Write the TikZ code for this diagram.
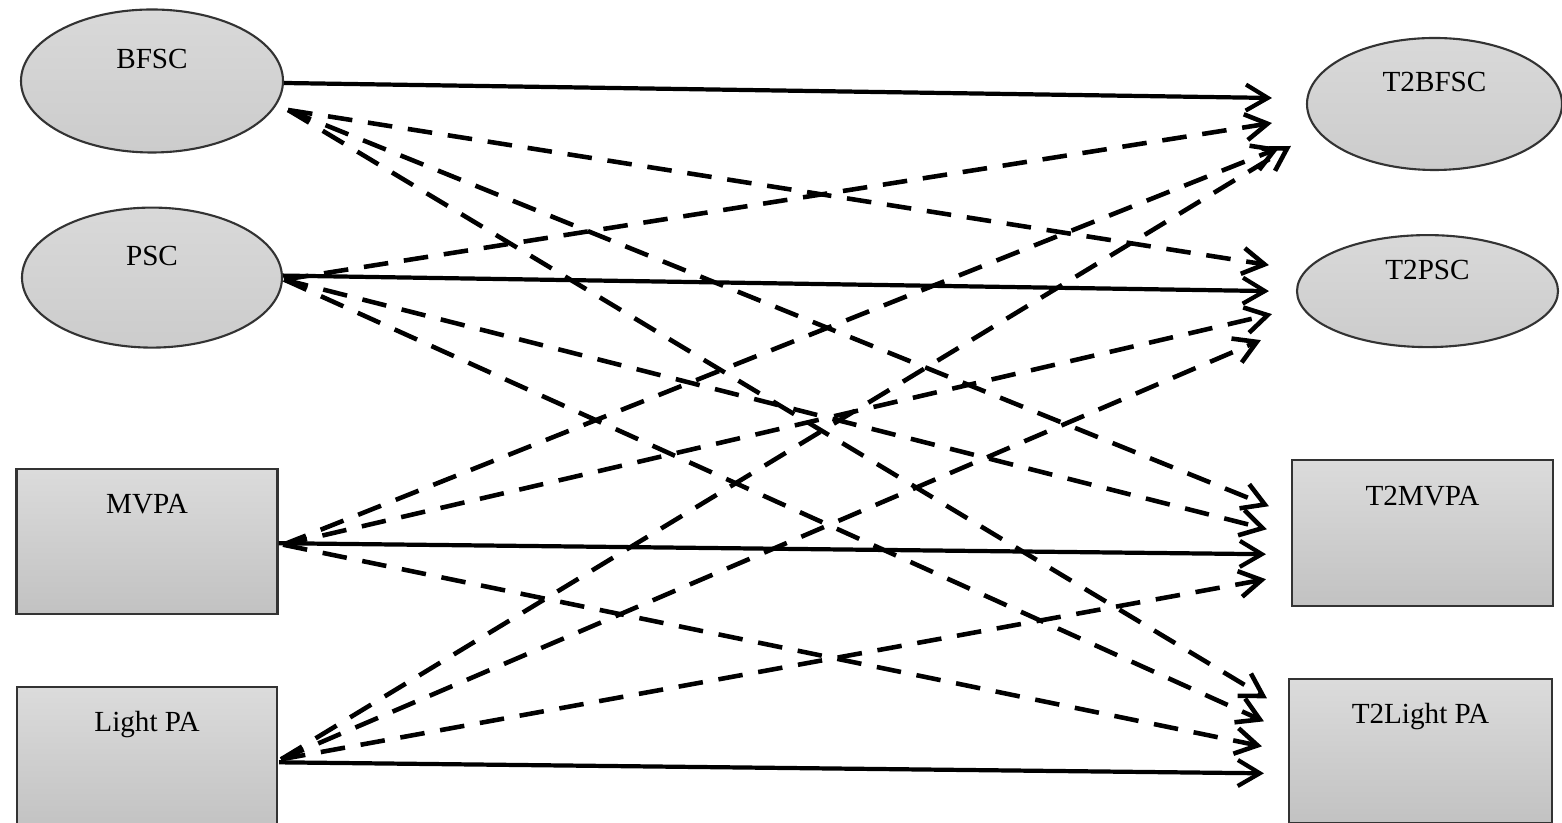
\documentclass[tikz,border=0pt]{standalone}
\usepackage{fontspec}
\setmainfont{Liberation Serif}
\usepackage{tikz}
\usetikzlibrary{shapes.geometric, arrows.meta, positioning, calc}
\tikzstyle{oval} = [ellipse, draw=black!80, line width=0.6pt, top color=gray!30, bottom color=gray!40, inner sep=0pt, text height=0.2cm, text depth=0.44cm, font=\fontsize{8.3}{10}\selectfont]
\tikzstyle{box} = [rectangle, draw=black!80, line width=0.6pt, top color=gray!28, bottom color=gray!48, text height=0.2cm, text depth=0.76cm, font=\fontsize{8.3}{10}\selectfont]
\tikzstyle{link} = [line width=1.2pt, -{Straight Barb[length=2.2mm, width=2.6mm]}]
\tikzstyle{crosslink} = [link, line width=1.3pt, dash pattern=on 7pt off 4.5pt]

\begin{document}
\begin{tikzpicture}
    \useasboundingbox (0,0) rectangle (15.62,8.23);
    % Baseline measures
    
\node[oval, minimum width=2.62cm, minimum height=1.43cm] (bfsc) at (1.52,7.42) {BFSC};
    
\node[oval, minimum width=2.60cm, minimum height=1.40cm, below=0.53cm of bfsc] (psc) {PSC};
    
\node[box, minimum width=2.61cm, minimum height=1.45cm, below=1.19cm of psc, xshift=-0.05cm] (mvpa) {MVPA};
    
\node[box, minimum width=2.60cm, minimum height=1.45cm, below=0.71cm of mvpa] (lpa) {Light PA};
    
    % Follow-up measures
    
\node[oval, minimum width=2.55cm, minimum height=1.32cm] (t2bfsc) at (14.345,7.19) {T2BFSC};
    
\node[oval, minimum width=2.61cm, minimum height=1.12cm, below=0.63cm of t2bfsc, xshift=-0.07cm] (t2psc) {T2PSC};
    
\node[box, minimum width=2.61cm, minimum height=1.46cm, below=1.11cm of t2psc, xshift=-0.05cm] (t2mvpa) {T2MVPA};
    
\node[box, minimum width=2.63cm, minimum height=1.44cm, below=0.71cm of t2mvpa, xshift=-0.02cm] (t2lpa) {T2Light PA};
    
    % Start points of the cross paths
    \coordinate (bfscout) at ([xshift=0.04cm,yshift=-0.29cm]bfsc.east);
    \coordinate (pscout) at ([xshift=0.01cm,yshift=-0.02cm]psc.east);
    \coordinate (mvpaout) at ([xshift=0.045cm,yshift=-0.035cm]mvpa.east);
    \coordinate (lpaout) at ([xshift=0.03cm]lpa.east);
    
    % Stability paths
    \draw[link] ([yshift=-0.02cm]bfsc.east) -- ([xshift=-0.34cm,yshift=0.06cm]t2bfsc.west);
    \draw[link] ([yshift=0.02cm]psc.east) -- ([xshift=-0.27cm]t2psc.west);
    \draw[link] ([yshift=-0.02cm]mvpa.east) -- ([xshift=-0.25cm,yshift=-0.21cm]t2mvpa.west);
    \draw[link] ([xshift=0.01cm,yshift=-0.03cm]lpa.east) -- ([xshift=-0.24cm,yshift=-0.22cm]t2lpa.west);
    
    % Cross paths
    \draw[crosslink] (bfscout) -- ([xshift=-0.27cm,yshift=0.26cm]t2psc.west);
    \draw[crosslink] (bfscout) -- ([xshift=-0.22cm,yshift=0.27cm]t2mvpa.west);
    \draw[crosslink] (bfscout) -- ([xshift=-0.21cm,yshift=0.53cm]t2lpa.west);
    \draw[crosslink] (pscout) -- ([xshift=-0.34cm,yshift=-0.19cm]t2bfsc.west);
    \draw[crosslink] (pscout) -- ([xshift=-0.24cm,yshift=0.04cm]t2mvpa.west);
    \draw[crosslink] (pscout) -- ([xshift=-0.24cm,yshift=0.30cm]t2lpa.west);
    \draw[crosslink] (mvpaout) -- ([xshift=-0.27cm,yshift=-0.44cm]t2bfsc.west);
    \draw[crosslink] (mvpaout) -- ([xshift=-0.24cm,yshift=-0.23cm]t2psc.west);
    \draw[crosslink] (mvpaout) -- ([xshift=-0.26cm,yshift=0.05cm]t2lpa.west);
    \draw[crosslink] (lpaout) -- ([xshift=-0.15cm,yshift=-0.42cm]t2bfsc.west);
    \draw[crosslink] (lpaout) -- ([xshift=-0.35cm,yshift=-0.49cm]t2psc.west);
    \draw[crosslink] (lpaout) -- ([xshift=-0.25cm,yshift=-0.46cm]t2mvpa.west);
\end{tikzpicture}
\end{document}
